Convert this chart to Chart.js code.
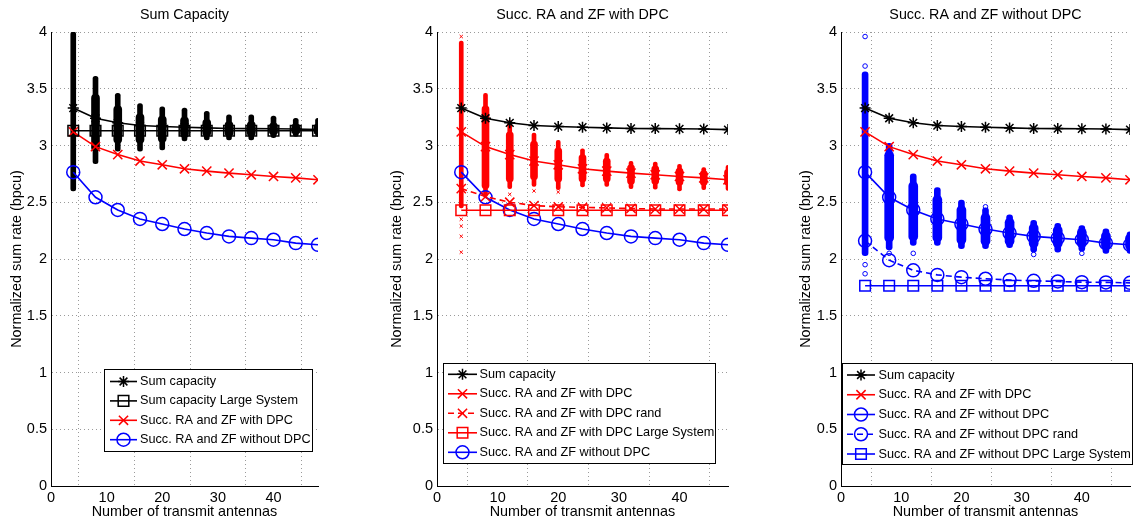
<!DOCTYPE html>
<html>
<head>
<meta charset="utf-8">
<script src="https://cdn.jsdelivr.net/npm/chart.js@4.4.1/dist/chart.umd.min.js"></script>
<style>
  html, body { margin: 0; padding: 0; background: #fff; }
  #wrap { position: relative; width: 1139px; height: 523px; overflow: hidden; }
  .panel { position: absolute; top: 0; height: 523px; }
  #p1 { left: 0; width: 380px; }
  #p2 { left: 380px; width: 380px; }
  #p3 { left: 760px; width: 379px; }
</style>
</head>
<body>
<div id="wrap">
  <div class="panel" id="p1"><canvas id="c1" width="380" height="523"></canvas></div>
  <div class="panel" id="p2"><canvas id="c2" width="380" height="523"></canvas></div>
  <div class="panel" id="p3"><canvas id="c3" width="379" height="523"></canvas></div>
</div>
<script>
// ---------------- data ----------------
const antennas = [4, 8, 12, 16, 20, 24, 28, 32, 36, 40, 44, 48];

const sumCap       = [3.33, 3.24, 3.20, 3.176, 3.167, 3.161, 3.155, 3.15, 3.149, 3.147, 3.146, 3.14];
const sumCapLarge  = [3.13, 3.13, 3.13, 3.13, 3.13, 3.13, 3.13, 3.13, 3.13, 3.13, 3.13, 3.13];
const zfDpc        = [3.12, 2.99, 2.92, 2.863, 2.83, 2.795, 2.774, 2.757, 2.742, 2.727, 2.715, 2.698];
const zfDpcRand    = [2.62, 2.55, 2.50, 2.47, 2.46, 2.455, 2.45, 2.445, 2.44, 2.44, 2.44, 2.44];
const zfDpcLarge   = [2.43, 2.43, 2.43, 2.43, 2.43, 2.43, 2.43, 2.43, 2.43, 2.43, 2.43, 2.43];
const zfNoDpc      = [2.765, 2.544, 2.432, 2.353, 2.308, 2.264, 2.229, 2.199, 2.184, 2.17, 2.14, 2.125];
const zfNoDpcRand  = [2.16, 1.99, 1.90, 1.86, 1.84, 1.826, 1.814, 1.808, 1.802, 1.796, 1.794, 1.79];
const zfNoDpcLarge = [1.764, 1.764, 1.764, 1.764, 1.764, 1.764, 1.764, 1.764, 1.764, 1.764, 1.764, 1.764];

// spread of the single realisations (min/max and dense part)
const capLo     = [2.60, 2.84, 2.95, 2.95, 2.96, 3.04, 3.05, 3.05, 3.05, 3.07, 3.08, 3.08];
const capHi     = [4.00, 3.61, 3.46, 3.37, 3.34, 3.33, 3.30, 3.27, 3.27, 3.26, 3.24, 3.24];
const capCoreLo = [null, 2.95, 3.02, 3.02, 3.03, 3.07, 3.08, 3.08, 3.08, 3.09, 3.10, 3.10];
const capCoreHi = [null, 3.45, 3.35, 3.28, 3.26, 3.25, 3.23, 3.21, 3.21, 3.20, 3.19, 3.19];

const dpcLo     = [2.45, 2.55, 2.62, 2.64, 2.61, 2.635, 2.64, 2.62, 2.615, 2.60, 2.61, 2.605];
const dpcHi     = [3.92, 3.46, 3.22, 3.11, 3.045, 2.97, 2.93, 2.86, 2.855, 2.835, 2.805, 2.825];
const dpcCoreLo = [null, 2.62, 2.68, 2.70, 2.68, 2.68, 2.68, 2.66, 2.66, 2.65, 2.65, 2.65];
const dpcCoreHi = [null, 3.35, 3.12, 3.04, 2.98, 2.92, 2.89, 2.83, 2.82, 2.80, 2.78, 2.79];
const dpcOutX   = [4, 4, 4, 4, 4, 12, 16, 20];
const dpcOutY   = [3.96, 2.35, 2.29, 2.20, 2.06, 2.57, 2.60, 2.59];

const noDpcLo     = [2.03, 2.08, 2.12, 2.12, 2.09, 2.09, 2.10, 2.06, 2.06, 2.07, 2.05, 2.05];
const noDpcHi     = [3.65, 3.02, 2.75, 2.63, 2.52, 2.45, 2.39, 2.34, 2.315, 2.295, 2.265, 2.24];
const noDpcCoreLo = [null, 2.15, 2.16, 2.15, 2.13, 2.12, 2.12, 2.10, 2.10, 2.10, 2.08, 2.08];
const noDpcCoreHi = [null, 2.95, 2.68, 2.56, 2.47, 2.40, 2.36, 2.31, 2.29, 2.27, 2.24, 2.22];
const noDpcOutX   = [4, 4, 4, 4, 8, 12, 24, 32, 40];
const noDpcOutY   = [3.96, 3.70, 1.95, 1.87, 2.05, 2.05, 2.46, 2.04, 2.05];

const xTicks = [0, 10, 20, 30, 40];
const yTicks = [0, 0.5, 1, 1.5, 2, 2.5, 3, 3.5, 4];

// ---------------- helpers ----------------
const FONT = "'Liberation Sans', Arial, Helvetica, sans-serif";
const BLACK = '#000000', RED = '#ff0000', BLUE = '#0000ff';
const NONE = 'rgba(0,0,0,0)';
const markerSize = { star: 5.5, crossRot: 6.5, circle: 6.5, rect: 7.5 };

function series(label, values, color, style, dash) {
  return {
    type: 'line',
    label: label,
    data: antennas.map((x, i) => ({ x: x, y: values[i] })),
    borderColor: color,
    backgroundColor: NONE,
    borderWidth: 1.6,
    borderDash: dash || [],
    pointStyle: style,
    pointRadius: markerSize[style],
    pointBorderWidth: 1.5,
    pointBorderColor: color,
    pointBackgroundColor: NONE,
    tension: 0
  };
}

function spread(lo, hi, color, width) {
  const pts = [];
  antennas.forEach((x, i) => { if (lo[i] != null) pts.push({ x: x, y: [lo[i], hi[i]] }); });
  return {
    type: 'bar',
    data: pts,
    backgroundColor: color,
    borderWidth: 0,
    borderRadius: 20,
    borderSkipped: false,
    grouped: false,
    barPercentage: 1,
    categoryPercentage: 1,
    maxBarThickness: width
  };
}

function outliers(xs, ys, color, style) {
  return {
    type: 'scatter',
    data: xs.map((x, i) => ({ x: x, y: ys[i] })),
    pointStyle: style,
    pointRadius: 2.3,
    pointBorderWidth: 1,
    pointBorderColor: color,
    pointBackgroundColor: NONE,
    showLine: false
  };
}

// title above the axes + legend box inside the axes
const panelText = {
  id: 'panelText',
  afterDraw(chart, args, opts) {
    const ctx = chart.ctx;
    const area = chart.chartArea;
    ctx.save();
    ctx.fillStyle = '#000';
    ctx.font = '14.3px ' + FONT;
    ctx.textAlign = 'center';
    ctx.textBaseline = 'middle';
    ctx.fillText(opts.title, (area.left + area.right) / 2, 15);

    const lg = opts.legend;
    ctx.fillStyle = '#fff';
    ctx.fillRect(lg.x1, lg.y1, lg.x2 - lg.x1, lg.y2 - lg.y1);
    ctx.strokeStyle = '#000';
    ctx.lineWidth = 1;
    ctx.strokeRect(Math.round(lg.x1) + 0.5, Math.round(lg.y1) + 0.5, Math.round(lg.x2 - lg.x1), Math.round(lg.y2 - lg.y1));

    const items = chart.data.datasets.filter(d => d.label);
    items.forEach((d, i) => {
      const y = lg.rowY + i * lg.rowGap;
      ctx.strokeStyle = d.borderColor;
      ctx.lineWidth = 1.6;
      ctx.setLineDash(d.borderDash || []);
      ctx.beginPath();
      ctx.moveTo(lg.lineX1, y);
      ctx.lineTo(lg.lineX2, y);
      ctx.stroke();
      ctx.setLineDash([]);
      ctx.fillStyle = NONE;
      ctx.lineWidth = 1.5;
      Chart.helpers.drawPoint(ctx, { pointStyle: d.pointStyle, radius: d.pointRadius, rotation: 0, borderWidth: 1.5 },
        (lg.lineX1 + lg.lineX2) / 2, y);
      ctx.fillStyle = '#000';
      ctx.font = '12.7px ' + FONT;
      ctx.textAlign = 'left';
      ctx.textBaseline = 'middle';
      ctx.fillText(d.label, lg.textX, y);
    });
    ctx.restore();
  }
};

function makePanel(id, datasets, pad, yWidth, title, legend) {
  new Chart(document.getElementById(id), {
    type: 'line',
    data: { datasets: datasets },
    options: {
      responsive: false,
      animation: false,
      layout: { padding: pad },
      plugins: {
        legend: { display: false },
        tooltip: { enabled: false },
        panelText: { title: title, legend: legend }
      },
      scales: {
        x: {
          type: 'linear',
          min: 0,
          max: 48,
          offset: false,
          afterBuildTicks: s => { s.ticks = xTicks.map(v => ({ value: v })); },
          afterFit: s => { s.height = 37; },
          grid: { color: '#9a9a9a', lineWidth: 1, drawTicks: false },
          border: { color: '#000', width: 1, dash: [1, 3] },
          ticks: { color: '#000', font: { family: FONT, size: 14.5 }, padding: 3, maxRotation: 0,
                   callback: v => String(v) },
          title: { display: true, text: 'Number of transmit antennas', color: '#000',
                   font: { family: FONT, size: 14.4 }, padding: { top: 0, bottom: 2 } }
        },
        y: {
          type: 'linear',
          min: 0,
          max: 4,
          afterBuildTicks: s => { s.ticks = yTicks.map(v => ({ value: v })); },
          afterFit: s => { s.width = yWidth; },
          grid: { color: '#9a9a9a', lineWidth: 1, drawTicks: false },
          border: { color: '#000', width: 1, dash: [1, 3] },
          ticks: { color: '#000', font: { family: FONT, size: 14.5 }, padding: 4,
                   callback: v => String(v) },
          title: { display: true, text: 'Normalized sum rate (bpcu)', color: '#000',
                   font: { family: FONT, size: 14.4 }, padding: { top: 8, bottom: 0 } }
        }
      }
    },
    plugins: [panelText]
  });
}

// ---------------- panel 1: Sum Capacity ----------------
makePanel('c1', [
  series('Sum capacity', sumCap, BLACK, 'star'),
  series('Sum capacity Large System', sumCapLarge, BLACK, 'rect'),
  series('Succ. RA and ZF with DPC', zfDpc, RED, 'crossRot'),
  series('Succ. RA and ZF without DPC', zfNoDpc, BLUE, 'circle'),
  spread(capCoreLo, capCoreHi, BLACK, 8),
  spread(capLo, capHi, BLACK, 5)
], { left: 0, right: 62, top: 32, bottom: 0 }, 51, 'Sum Capacity',
  { x1: 104, y1: 369, x2: 312, y2: 451, rowY: 381.5, rowGap: 19.4, lineX1: 110, lineX2: 137, textX: 140 });

// ---------------- panel 2: with DPC ----------------
makePanel('c2', [
  series('Sum capacity', sumCap, BLACK, 'star'),
  series('Succ. RA and ZF with DPC', zfDpc, RED, 'crossRot'),
  series('Succ. RA and ZF with DPC rand', zfDpcRand, RED, 'crossRot', [6, 4]),
  series('Succ. RA and ZF with DPC Large System', zfDpcLarge, RED, 'rect'),
  series('Succ. RA and ZF without DPC', zfNoDpc, BLUE, 'circle'),
  outliers(dpcOutX, dpcOutY, RED, 'crossRot'),
  spread(dpcCoreLo, dpcCoreHi, RED, 7),
  spread(dpcLo, dpcHi, RED, 4)
], { left: 0, right: 32, top: 32, bottom: 0 }, 57, 'Succ. RA and ZF with DPC',
  { x1: 63, y1: 363, x2: 335, y2: 463, rowY: 374.3, rowGap: 19.5, lineX1: 68, lineX2: 97, textX: 99.5 });

// ---------------- panel 3: without DPC ----------------
makePanel('c3', [
  series('Sum capacity', sumCap, BLACK, 'star'),
  series('Succ. RA and ZF with DPC', zfDpc, RED, 'crossRot'),
  series('Succ. RA and ZF without DPC', zfNoDpc, BLUE, 'circle'),
  series('Succ. RA and ZF without DPC rand', zfNoDpcRand, BLUE, 'circle', [6, 4]),
  series('Succ. RA and ZF without DPC Large System', zfNoDpcLarge, BLUE, 'rect'),
  outliers(noDpcOutX, noDpcOutY, BLUE, 'circle'),
  spread(noDpcCoreLo, noDpcCoreHi, BLUE, 9),
  spread(noDpcLo, noDpcHi, BLUE, 6)
], { left: 29, right: 8, top: 32, bottom: 0 }, 52, 'Succ. RA and ZF without DPC',
  { x1: 82, y1: 363, x2: 372, y2: 464, rowY: 375, rowGap: 19.75, lineX1: 87, lineX2: 115, textX: 118.5 });
</script>
</body>
</html>
